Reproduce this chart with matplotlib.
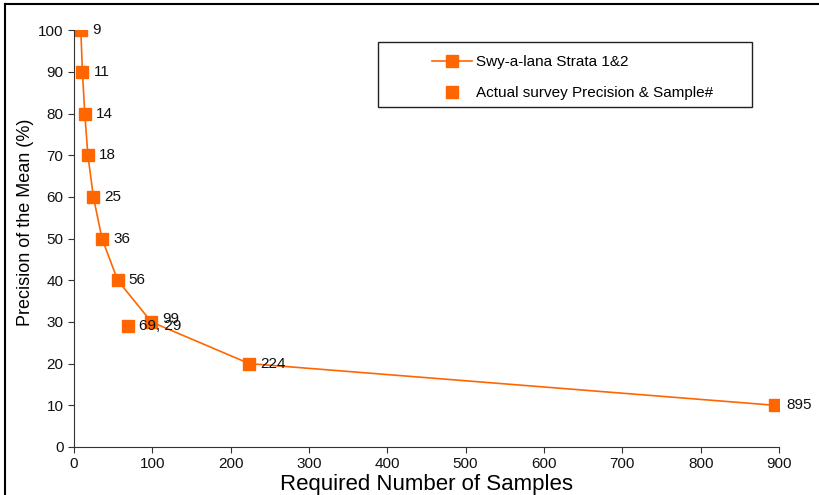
import matplotlib.pyplot as plt
from matplotlib.patches import Rectangle
from matplotlib.lines import Line2D

plt.rcParams['font.family'] = ['Liberation Sans', 'DejaVu Sans']

# 精度 vs 所需样本数
precision = [100, 90, 80, 70, 60, 50, 40, 30, 20, 10]
samples = [9, 11, 14, 18, 25, 36, 56, 99, 224, 895]
actual_x = [69]
actual_y = [29]
actual_label = "69, 29"
orange = "#FF6600"

fig = plt.figure(figsize=(8.2, 4.95), dpi=100)
ax = fig.add_axes([0.090, 0.097, 0.860, 0.842])

ax.plot(samples, precision, color=orange, lw=1.2, marker="s", ms=8.5,
        label="Swy-a-lana Strata 1&2")
ax.plot(actual_x, actual_y, ls="none", color=orange, marker="s", ms=8.5,
        label="Actual survey Precision & Sample#")

for s, p in zip(samples, precision):
    dy = 0.8 if s == 99 else 0
    ax.annotate(str(s), (s, p + dy), xytext=(8, 0), textcoords="offset points",
                va="center", ha="left", fontsize=11, color="#111111")
ax.annotate(actual_label, (actual_x[0], actual_y[0]), xytext=(8, 0),
            textcoords="offset points", va="center", ha="left",
            fontsize=11, color="#111111")

ax.set_xlim(0, 900)
ax.set_ylim(0, 100)
ax.set_xticks(range(0, 901, 100))
ax.set_yticks(range(0, 101, 10))
ax.spines["top"].set_visible(False)
ax.spines["right"].set_visible(False)
for sp in ("left", "bottom"):
    ax.spines[sp].set_color("#333333")
ax.tick_params(direction="out", length=4, color="#333333", labelsize=11,
               labelcolor="#111111")
ax.set_xlabel("Required Number of Samples", fontsize=16, labelpad=2)
ax.set_ylabel("Precision of the Mean (%)", fontsize=13)
ax.yaxis.set_label_coords(-0.056, 0.54)

# 图例框
fig.patches.append(Rectangle((378 / 820, 1 - 107 / 495), 374 / 820, 65 / 495,
                             transform=fig.transFigure, fill=False,
                             edgecolor="#222222", lw=1))
fig.legend(loc="upper left", bbox_to_anchor=(426 / 820, 1 - 49 / 495),
           frameon=False, fontsize=11, handlelength=2.6, handletextpad=0.3,
           labelspacing=1.1, borderaxespad=0)

# 外边框 (上, 左)
fig.add_artist(Line2D([5 / 820, 1], [1 - 4 / 495, 1 - 4 / 495],
                      transform=fig.transFigure, color="black", lw=1.5))
fig.add_artist(Line2D([5 / 820, 5 / 820], [0, 1 - 4 / 495],
                      transform=fig.transFigure, color="black", lw=1.5))

fig.savefig("out.png", dpi=100)
